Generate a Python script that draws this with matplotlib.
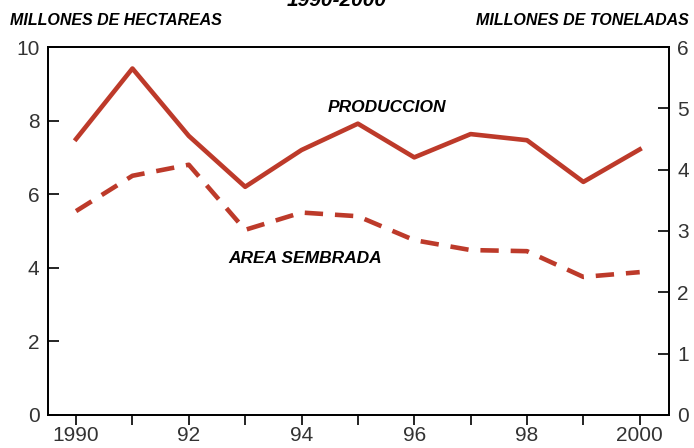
import numpy as np
import matplotlib.pyplot as plt

years = [1990, 1991, 1992, 1993, 1994, 1995, 1996, 1997, 1998, 1999, 2000]
# millones de toneladas (eje derecho)
produccion = [4.5, 5.65, 4.55, 3.72, 4.32, 4.75, 4.2, 4.58, 4.48, 3.8, 4.33]
# millones de hectareas (eje izquierdo)
area = [5.54, 6.5, 6.8, 5.03, 5.5, 5.4, 4.75, 4.48, 4.45, 3.75, 3.88]

xtick_pos = [1990, 1992, 1994, 1996, 1998, 2000]
xtick_labels = ['1990', '92', '94', '96', '98', '2000']

red = '#bd3a2a'
plt.rcParams['font.family'] = ['Liberation Sans', 'DejaVu Sans']

fig = plt.figure(figsize=(6.94, 4.48), dpi=100)
ax = fig.add_axes([0.069, 0.074, 0.895, 0.821])
ax2 = ax.twinx()

ax.plot(years, area, color=red, lw=3.3, dashes=(4, 2.6))
ax2.plot(years, produccion, color=red, lw=3.3)

ax.set_xlim(1989.5, 2000.52)
ax.set_ylim(0, 10)
ax2.set_ylim(0, 6)
ax.set_yticks([0, 2, 4, 6, 8, 10])
ax2.set_yticks([0, 1, 2, 3, 4, 5, 6])
ax.set_xticks(xtick_pos)
ax.set_xticklabels(xtick_labels)
ax.set_xticks(years, minor=True)

for a in (ax, ax2):
    for s in a.spines.values():
        s.set_linewidth(1.3)
ax.tick_params(axis='y', direction='in', length=8, width=1.2, labelsize=15, labelcolor='#333333', pad=6)
ax2.tick_params(axis='y', direction='in', length=8, width=1.2, labelsize=15, labelcolor='#333333', pad=6)
ax.tick_params(axis='x', which='both', direction='out', length=7, width=1.2, labelsize=15, labelcolor='#333333', pad=1)

ax.text(0.451, 0.823, 'PRODUCCION', transform=ax.transAxes, fontsize=12.5,
        fontweight='bold', fontstyle='italic', va='baseline')
ax.text(0.291, 0.413, 'AREA SEMBRADA', transform=ax.transAxes, fontsize=12.5,
        fontweight='bold', fontstyle='italic', va='baseline')

fig.text(0.014, 0.955, 'MILLONES DE HECTAREAS', fontsize=11.5, fontweight='bold',
         fontstyle='italic', va='center')
fig.text(0.993, 0.955, 'MILLONES DE TONELADAS', fontsize=11.5, fontweight='bold',
         fontstyle='italic', va='center', ha='right')
fig.text(0.485, 1.0, '1990-2000', fontsize=15, fontweight='bold',
         fontstyle='italic', va='center', ha='center')

fig.savefig('out.png', dpi=100)
